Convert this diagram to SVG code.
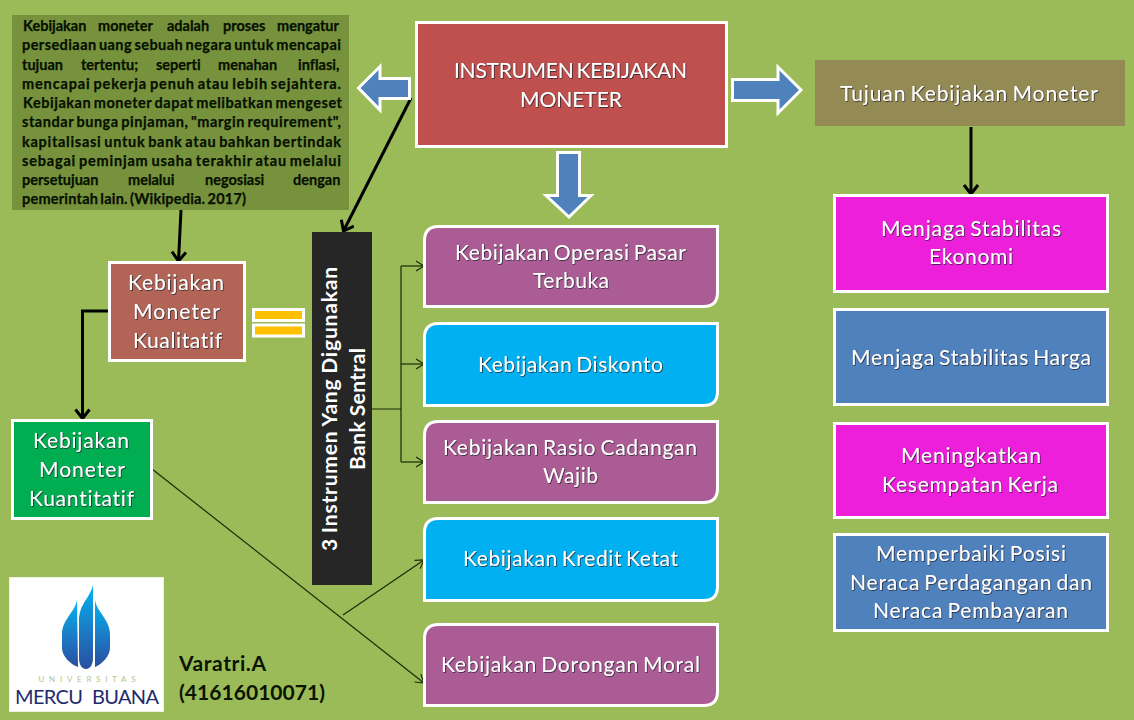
<svg xmlns="http://www.w3.org/2000/svg" width="1134" height="720" viewBox="0 0 1134 720">
<style>
text{font-variant-ligatures:none}
.box{stroke:#fff;stroke-width:3}
.t{font-family:"Lato","Liberation Sans",sans-serif;font-size:21px;word-spacing:-2px;fill:#fff;text-anchor:middle;filter:url(#sh)}
.p{font-family:"Lato","Liberation Sans",sans-serif;font-size:14.500px;font-weight:700;fill:#071000;stroke:#071000;stroke-width:0.25;word-spacing:-1.500px}
.v{font-family:"Lato","Liberation Sans",sans-serif;font-size:21px;font-weight:700;fill:#0a1400}
.bar{font-family:"Lato","Liberation Sans",sans-serif;font-size:21px;font-weight:700;fill:#fff;text-anchor:middle;word-spacing:-1px}
.thick{fill:none;stroke:#000;stroke-width:3;marker-end:url(#ah)}
.thin{fill:none;stroke:#1c2a08;stroke-width:1.2}
.thinA{fill:none;stroke:#1c2a08;stroke-width:1.2;marker-end:url(#at)}
.blk{fill:#4F81BD;stroke:#fff;stroke-width:3}
</style>
<defs>
<filter id="sh" x="-5%" y="-20%" width="110%" height="140%"><feDropShadow dx="0.7" dy="0.7" stdDeviation="0.35" flood-color="#1a1a2a" flood-opacity="1"/></filter>
<marker id="ah" markerUnits="userSpaceOnUse" markerWidth="16" markerHeight="18" refX="12" refY="8" orient="auto"><path d="M3 1 L12 8 L3 15" fill="none" stroke="#000" stroke-width="3"/></marker>
<marker id="at" markerUnits="userSpaceOnUse" markerWidth="12" markerHeight="14" refX="9" refY="6" orient="auto"><path d="M1 1 L9 6 L1 11" fill="none" stroke="#1c2a08" stroke-width="1.2"/></marker>
<linearGradient id="fl" x1="0" y1="0" x2="0" y2="1"><stop offset="0" stop-color="#00b4f0"/><stop offset="0.5" stop-color="#1a7fc8"/><stop offset="1" stop-color="#2a4fa0"/></linearGradient>
</defs>
<rect width="1134" height="720" fill="#9BBB59"/>

<g id="connectors">
<path class="thick" d="M181 210 L178.500 261"/>
<path class="thick" d="M411 98 L343.500 231"/>
<path class="thick" d="M110 311 H82.500 V418.500"/>
<path class="thick" d="M971 127 V194"/>
<path class="thin" d="M372 409 H401 M401 266 V462"/>
<path class="thinA" d="M401 266 H424"/>
<path class="thinA" d="M401 364 H424"/>
<path class="thinA" d="M401 462 H424"/>
<path class="thinA" d="M152 469 L424 683"/>
<path class="thinA" d="M343 615 L424 560"/>
</g>

<g id="note">
<rect x="12" y="15" width="337" height="195" fill="#76923C"/>
<text class="p" y="31"><tspan x="23">Kebijakan</tspan> <tspan x="98">moneter</tspan> <tspan x="167">adalah</tspan> <tspan x="223">proses</tspan> <tspan x="277">mengatur</tspan></text>
<text class="p" x="22" y="50" textLength="319">persediaan uang sebuah negara untuk mencapai</text>
<text class="p" y="70"><tspan x="22">tujuan</tspan> <tspan x="81">tertentu;</tspan> <tspan x="156">seperti</tspan> <tspan x="218">menahan</tspan> <tspan x="298">inflasi,</tspan></text>
<text class="p" x="22" y="89" textLength="319">mencapai pekerja penuh atau lebih sejahtera.</text>
<text class="p" x="23" y="108" textLength="319">Kebijakan moneter dapat melibatkan mengeset</text>
<text class="p" x="22" y="127" textLength="319">standar bunga pinjaman, "margin requirement",</text>
<text class="p" x="22" y="147" textLength="319">kapitalisasi untuk bank atau bahkan bertindak</text>
<text class="p" x="22" y="166" textLength="319">sebagai peminjam usaha terakhir atau melalui</text>
<text class="p" y="185"><tspan x="22">persetujuan</tspan> <tspan x="128">melalui</tspan> <tspan x="205">negosiasi</tspan> <tspan x="293">dengan</tspan></text>
<text class="p" x="22" y="204" textLength="224">pemerintah lain. (Wikipedia. 2017)</text>
</g>

<g id="main">
<rect class="box" x="416.500" y="22.500" width="310" height="124" fill="#C0504D"/>
<text class="t" x="570.500" y="78" textLength="233">INSTRUMEN KEBIJAKAN</text>
<text class="t" x="571" y="107" textLength="102">MONETER</text>
</g>

<g id="arrow-left"><path class="blk" d="M358.500 88 L380 66.500 V78.500 H409.500 V98.500 H380 V110 Z"/></g>
<g id="arrow-right"><path class="blk" d="M732.500 79.500 H778 V67 L801 90 L778 113 V100.500 H732.500 Z"/></g>
<g id="arrow-down"><path class="blk" d="M557.500 152.500 H579.500 V195.500 H591 L569 217 L546 195.500 H557.500 Z"/></g>

<g id="tujuan">
<rect x="815" y="60" width="310" height="66" fill="#948A54"/>
<text class="t" x="969" y="101" textLength="258">Tujuan Kebijakan Moneter</text>
</g>

<g id="r1">
<rect class="box" x="834.500" y="195.500" width="273" height="96" fill="#EE1FDB"/>
<text class="t" x="971" y="236" textLength="180">Menjaga Stabilitas</text>
<text class="t" x="971" y="264" textLength="84">Ekonomi</text>
</g>
<g id="r2">
<rect class="box" x="834.500" y="309.500" width="273" height="95" fill="#4F81BD"/>
<text class="t" x="971" y="365" textLength="240">Menjaga Stabilitas Harga</text>
</g>
<g id="r3">
<rect class="box" x="834.500" y="423.500" width="273" height="94" fill="#EE1FDB"/>
<text class="t" x="971" y="463" textLength="140">Meningkatkan</text>
<text class="t" x="970" y="492" textLength="176">Kesempatan Kerja</text>
</g>
<g id="r4">
<rect class="box" x="834.500" y="534.500" width="273" height="96" fill="#4F81BD"/>
<text class="t" x="971" y="561" textLength="190">Memperbaiki Posisi</text>
<text class="t" x="971" y="590" textLength="242">Neraca Perdagangan dan</text>
<text class="t" x="970.500" y="618" textLength="195">Neraca Pembayaran</text>
</g>

<g id="m1">
<path class="box" fill="#AC5C94" d="M438.500 226.500 H717.500 V292.500 Q717.500 306.500 703.500 306.500 H424.500 V240.500 Q424.500 226.500 438.500 226.500 Z"/>
<text class="t" x="570.500" y="260" textLength="231">Kebijakan Operasi Pasar</text>
<text class="t" x="571" y="288" textLength="76">Terbuka</text>
</g>
<g id="m2">
<path class="box" fill="#00B0F0" d="M438.500 323.500 H717.500 V391.500 Q717.500 405.500 703.500 405.500 H424.500 V337.500 Q424.500 323.500 438.500 323.500 Z"/>
<text class="t" x="570.500" y="372" textLength="185">Kebijakan Diskonto</text>
</g>
<g id="m3">
<path class="box" fill="#AC5C94" d="M438.500 421.500 H717.500 V488.500 Q717.500 502.500 703.500 502.500 H424.500 V435.500 Q424.500 421.500 438.500 421.500 Z"/>
<text class="t" x="570" y="455" textLength="254">Kebijakan Rasio Cadangan</text>
<text class="t" x="570.500" y="483" textLength="55">Wajib</text>
</g>
<g id="m4">
<path class="box" fill="#00B0F0" d="M438.500 518.500 H717.500 V586.500 Q717.500 600.500 703.500 600.500 H424.500 V532.500 Q424.500 518.500 438.500 518.500 Z"/>
<text class="t" x="570.500" y="566" textLength="215">Kebijakan Kredit Ketat</text>
</g>
<g id="m5">
<path class="box" fill="#AC5C94" d="M438.500 624.500 H717.500 V691.500 Q717.500 705.500 703.500 705.500 H424.500 V638.500 Q424.500 624.500 438.500 624.500 Z"/>
<text class="t" x="570.500" y="672" textLength="259">Kebijakan Dorongan Moral</text>
</g>

<g id="bar">
<rect x="312" y="232" width="60" height="353" fill="#262626"/>
<text class="bar" transform="translate(337 409) rotate(-90)" x="0" y="0" textLength="284">3 Instrumen Yang Digunakan</text>
<text class="bar" transform="translate(365 409) rotate(-90)" x="0" y="0" textLength="122">Bank Sentral</text>
</g>

<g id="kualitatif">
<rect class="box" x="109.500" y="262.500" width="135" height="98" fill="#B26557"/>
<text class="t" x="176" y="290" textLength="96">Kebijakan</text>
<text class="t" x="176.500" y="319" textLength="87">Moneter</text>
<text class="t" x="177.500" y="348" textLength="89">Kualitatif</text>
</g>
<g id="kuantitatif">
<rect class="box" x="12.500" y="420.500" width="139" height="98" fill="#00AD50"/>
<text class="t" x="81" y="448" textLength="96">Kebijakan</text>
<text class="t" x="82" y="477" textLength="86">Moneter</text>
<text class="t" x="81.500" y="506" textLength="105">Kuantitatif</text>
</g>

<g id="equals">
<rect x="253.500" y="309.500" width="50" height="11" fill="#FFC000" stroke="#fff" stroke-width="3"/>
<rect x="253.500" y="325" width="50" height="11" fill="#FFC000" stroke="#fff" stroke-width="3"/>
</g>

<g id="logo">
<rect x="9.500" y="577.500" width="154" height="134" fill="#fff" stroke="#eef2d8" stroke-width="1"/>
<path fill="url(#fl)" d="M77 600 C75 612 62 620 62 634 V648 C62 656 70 664 78 667 Z"/>
<path fill="url(#fl)" d="M93 585 C90 598 80 603 79 618 V658 C79 665 82 669 86 669 C90 669 93 665 93 658 Z"/>
<path fill="url(#fl)" d="M95 600 C97 612 110 620 110 634 V648 C110 656 102 664 95 667 Z"/>
<text x="87" y="682" text-anchor="middle" textLength="97" font-family="Lato,'Liberation Sans',sans-serif" font-size="8" fill="#b5c48a">UNIVERSITAS</text>
<text x="87" y="704" text-anchor="middle" textLength="144" font-family="Lato,'Liberation Sans',sans-serif" font-size="20" word-spacing="5" fill="#1f2a6e">MERCU BUANA</text>
</g>

<g id="author">
<text class="v" x="179" y="671" textLength="87">Varatri.A</text>
<text class="v" x="179" y="700" textLength="146">(41616010071)</text>
</g>
</svg>
